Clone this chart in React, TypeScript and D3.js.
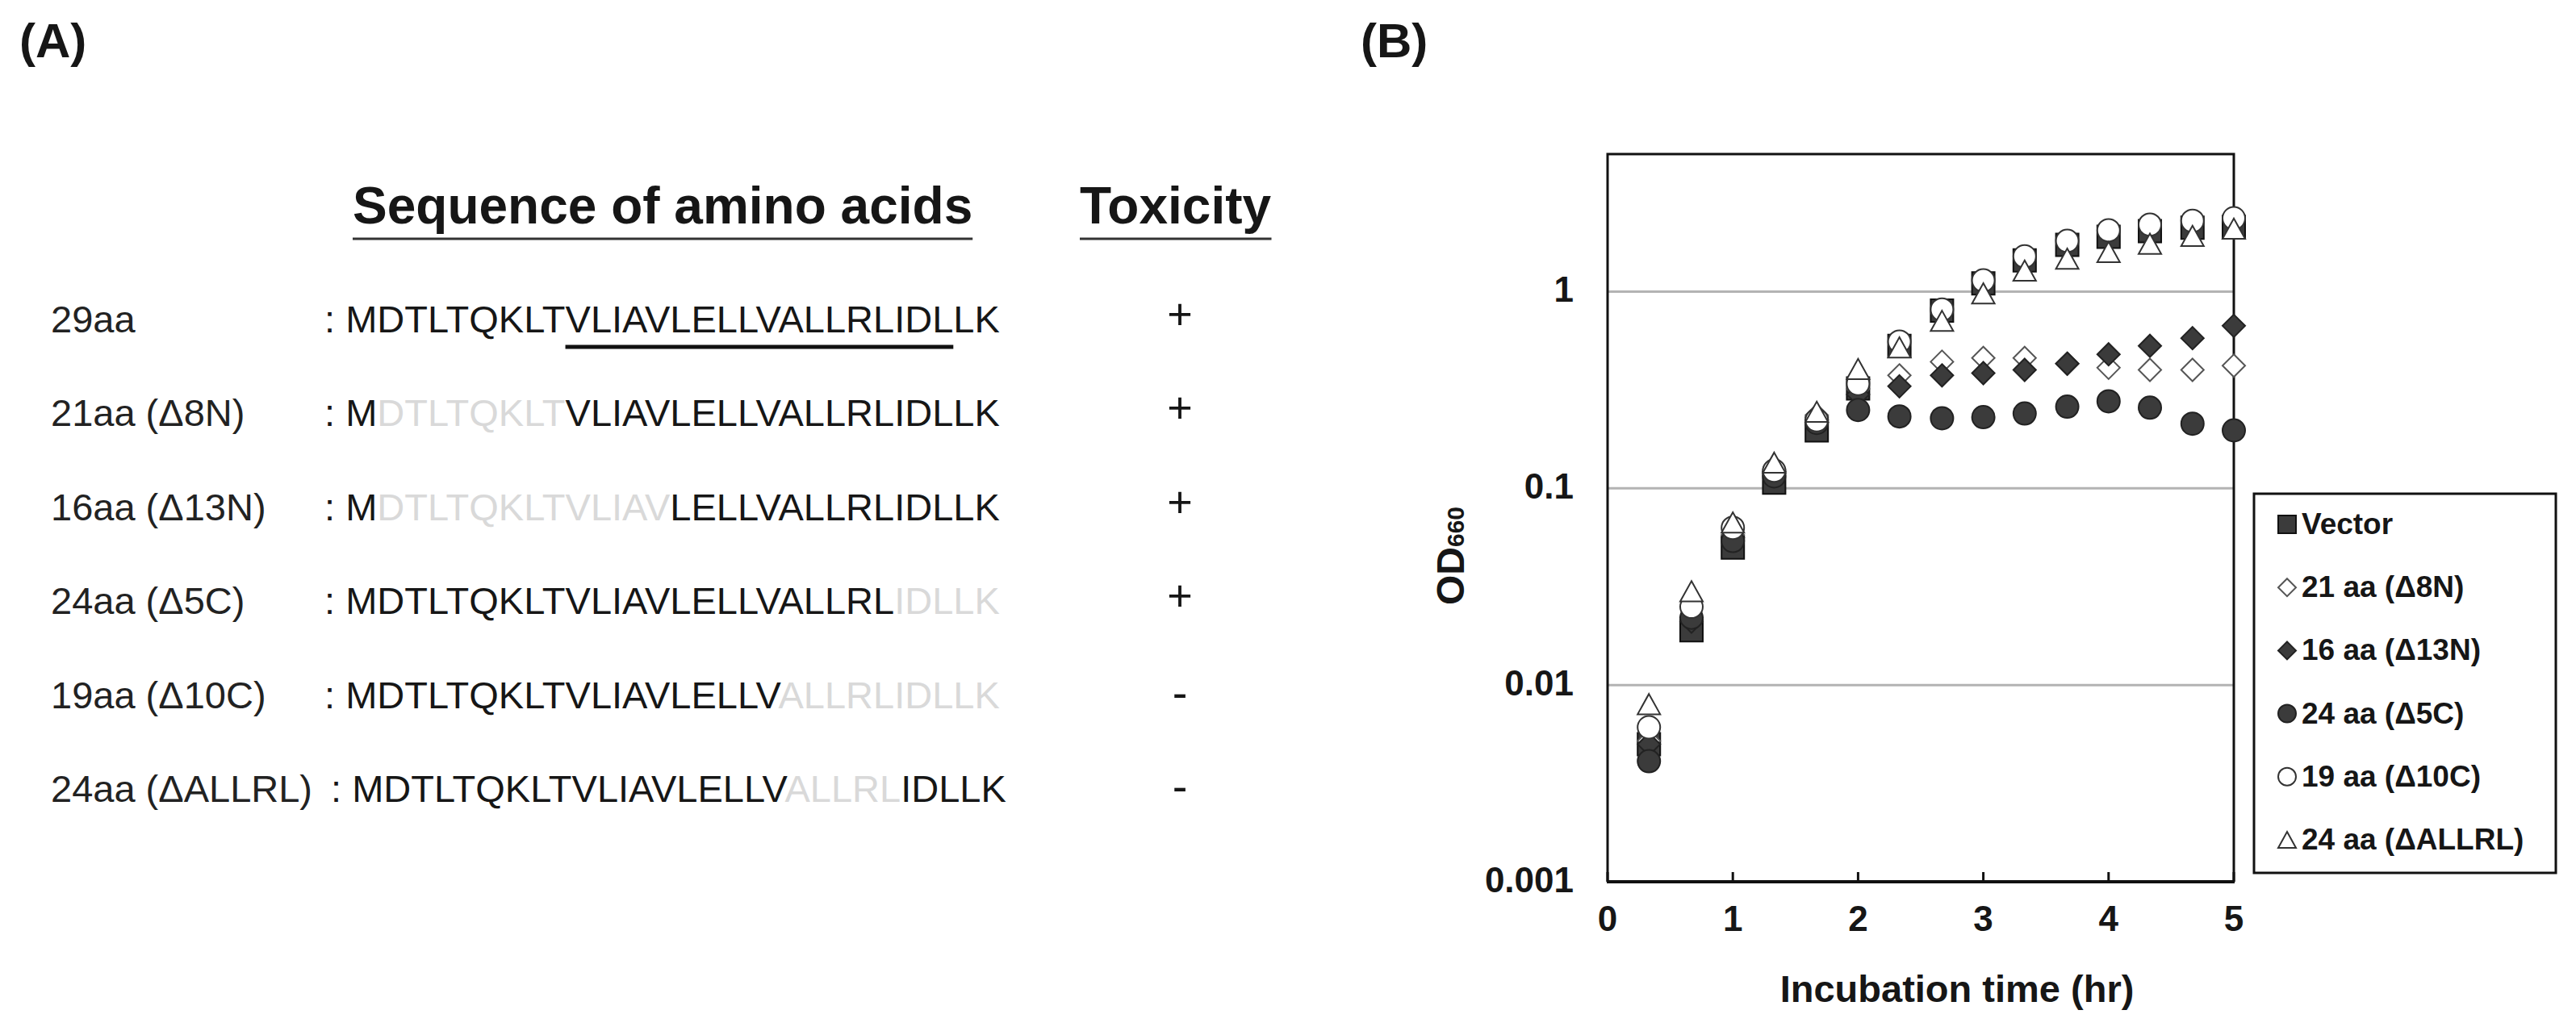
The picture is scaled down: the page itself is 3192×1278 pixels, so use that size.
import * as d3 from "d3";
import { useLayoutEffect, useRef, useState } from "react";

const W = 3192;
const H = 1278;
const FONT = "'Liberation Sans', Arial, Helvetica, sans-serif";
const INK = "#161616";
const FADED = "#d9d9d9";
const DARK_FILL = "#3b3b3b";

// ---- panel A data ----
const rowLabels = ["29aa", "21aa (Δ8N)", "16aa (Δ13N)", "24aa (Δ5C)", "19aa (Δ10C)", "24aa (ΔALLRL)"];
// sequence pieces: [residues, kept]
const rowPieces: [string, boolean][][] = [
  [["MDTLTQKLTVLIAVLELLVALLRLIDLLK", true]],
  [["M", true], ["DTLTQKLT", false], ["VLIAVLELLVALLRLIDLLK", true]],
  [["M", true], ["DTLTQKLTVLIAV", false], ["LELLVALLRLIDLLK", true]],
  [["MDTLTQKLTVLIAVLELLVALLRL", true], ["IDLLK", false]],
  [["MDTLTQKLTVLIAVLELLV", true], ["ALLRLIDLLK", false]],
  [["MDTLTQKLTVLIAVLELLV", true], ["ALLRL", false], ["IDLLK", true]],
];
const toxicity = ["+", "+", "+", "+", "-", "-"];
const headings = ["Sequence of amino acids", "Toxicity"];
const helixRange = [9, 26]; // underlined residues of the full peptide (0-based, inclusive)

// ---- panel B data ----
const times = [0.33, 0.67, 1.0, 1.33, 1.67, 2.0, 2.33, 2.67, 3.0, 3.33, 3.67, 4.0, 4.33, 4.67, 5.0];
const seriesNames = ["Vector", "21 aa (Δ8N)", "16 aa (Δ13N)", "24 aa (Δ5C)", "19 aa (Δ10C)", "24 aa (ΔALLRL)"];
const vectorOD = [0.005, 0.019, 0.05, 0.107, 0.197, 0.322, 0.53, 0.8, 1.1, 1.44, 1.73, 1.9, 2.03, 2.11, 2.13];
const d8nOD = [0.0052, 0.022, 0.058, 0.125, 0.235, 0.32, 0.375, 0.44, 0.46, 0.46, 0.43, 0.41, 0.4, 0.4, 0.42];
const d13nOD = [0.005, 0.021, 0.056, 0.122, 0.23, 0.3, 0.33, 0.375, 0.385, 0.4, 0.43, 0.48, 0.53, 0.58, 0.67];
const d5cOD = [0.0041, 0.022, 0.054, 0.115, 0.215, 0.25, 0.232, 0.227, 0.23, 0.24, 0.26, 0.277, 0.257, 0.213, 0.197];
const d10cOD = [0.0061, 0.025, 0.063, 0.123, 0.222, 0.34, 0.557, 0.81, 1.14, 1.51, 1.81, 2.05, 2.19, 2.29, 2.36];
const dAllrlOD = [0.008, 0.03, 0.067, 0.135, 0.245, 0.404, 0.52, 0.71, 0.98, 1.28, 1.47, 1.59, 1.75, 1.92, 2.09];
const seriesValues = [vectorOD, d8nOD, d13nOD, d5cOD, d10cOD, dAllrlOD];
const xTicks = [0, 1, 2, 3, 4, 5];
const yTicks = [0.001, 0.01, 0.1, 1];

type Shape = "square" | "diamond" | "circle" | "triangle";
const markerStyles: { shape: Shape; fill: string; stroke: string }[] = [
  { shape: "square", fill: DARK_FILL, stroke: "#111" },
  { shape: "diamond", fill: "#fff", stroke: "#555" },
  { shape: "diamond", fill: DARK_FILL, stroke: "#222" },
  { shape: "circle", fill: DARK_FILL, stroke: "#222" },
  { shape: "circle", fill: "#fff", stroke: "#333" },
  { shape: "triangle", fill: "#fff", stroke: "#333" },
];

// layout
const ROW_Y = [412, 994];
const LABEL_X = 63;
const SEQ_X = [402, 402, 402, 402, 402, 410];
const TOX_X = 1462;
const HEAD_Y = 277;
const HEAD_X = [437, 1338];
const HEAD_LINE_Y = 296;
const HELIX_LINE_Y = 430;
const PLOT = { left: 1992, right: 2768, top: 191, bottom: 1093 };
const LEGEND = { x: 2793, y: 612, w: 374, h: 470 };

function markerPath(shape: Shape, s: number) {
  const h = s / 2;
  if (shape === "square") return `M${-h},${-h}H${h}V${h}H${-h}Z`;
  if (shape === "diamond") return `M0,${-h}L${h},0L0,${h}L${-h},0Z`;
  if (shape === "triangle") return `M0,${-h * 0.9}L${h},${h * 0.9}L${-h},${h * 0.9}Z`;
  const p = d3.path();
  p.arc(0, 0, h, 0, Math.PI * 2);
  p.closePath();
  return p.toString();
}

function Marker({ k, x, y, size }: { k: number; x: number; y: number; size: number }) {
  const st = markerStyles[k];
  return (
    <path
      d={markerPath(st.shape, size)}
      transform={`translate(${x},${y})`}
      fill={st.fill}
      stroke={st.stroke}
      strokeWidth={2}
    />
  );
}

export default function App() {
  const seqRef = useRef<SVGTextElement>(null);
  const headRefs = useRef<(SVGTextElement | null)[]>([]);
  const [lines, setLines] = useState<{ x1: number; x2: number; y: number; w: number }[]>([]);

  const rowY = d3.scaleLinear().domain([0, rowLabels.length - 1]).range(ROW_Y);
  const x = d3.scaleLinear().domain([0, 5]).range([PLOT.left, PLOT.right]);
  const y = d3.scaleLog().domain([0.001, 5]).range([PLOT.bottom, PLOT.top]);
  const legendY = d3.scaleLinear().domain([0, seriesNames.length - 1]).range([662, 1053]);

  useLayoutEffect(() => {
    const out: { x1: number; x2: number; y: number; w: number }[] = [];
    headRefs.current.forEach((el) => {
      if (!el) return;
      const b = el.getBBox();
      out.push({ x1: b.x, x2: b.x + b.width, y: HEAD_LINE_Y, w: 3 });
    });
    const el = seqRef.current;
    if (el) {
      const pre = 2; // ": "
      const a = el.getStartPositionOfChar(pre + helixRange[0]).x;
      const b = el.getEndPositionOfChar(pre + helixRange[1]).x;
      out.push({ x1: a, x2: b, y: HELIX_LINE_Y, w: 5 });
    }
    setLines(out);
  }, []);

  return (
    <svg
      width={W}
      height={H}
      viewBox={`0 0 ${W} ${H}`}
      style={{ position: "absolute", left: 0, top: 0, display: "block", background: "#fff" }}
      fontFamily={FONT}
    >
      <rect width={W} height={H} fill="#fff" />

      {/* ---------- panel A ---------- */}
      <text x={24} y={71} fontSize={60} fontWeight="bold" fill={INK}>(A)</text>
      {headings.map((h, i) => (
        <text
          key={h}
          ref={(el) => (headRefs.current[i] = el)}
          x={HEAD_X[i]}
          y={HEAD_Y}
          fontSize={64}
          fontWeight="bold"
          fill={INK}
        >
          {h}
        </text>
      ))}
      {rowLabels.map((label, i) => (
        <g key={label}>
          <text x={LABEL_X} y={rowY(i)} fontSize={47} fill="#222">{label}</text>
          <text
            ref={i === 0 ? seqRef : undefined}
            x={SEQ_X[i]}
            y={rowY(i)}
            fontSize={47}
            style={{ whiteSpace: "pre" }}
          >
            <tspan fill={INK}>{": "}</tspan>
            {rowPieces[i].map(([res, kept], j) => (
              <tspan key={j} fill={kept ? INK : FADED}>{res}</tspan>
            ))}
          </text>
          <text
            x={TOX_X}
            y={toxicity[i] === "+" ? rowY(i) - 4 : rowY(i)}
            fontSize={toxicity[i] === "+" ? 54 : 56}
            textAnchor="middle"
            fill={INK}
          >
            {toxicity[i]}
          </text>
        </g>
      ))}
      {lines.map((l, i) => (
        <line key={i} x1={l.x1} x2={l.x2} y1={l.y} y2={l.y} stroke={i < 2 ? "#333" : "#111"} strokeWidth={l.w} />
      ))}

      {/* ---------- panel B ---------- */}
      <text x={1686} y={71} fontSize={60} fontWeight="bold" fill={INK}>(B)</text>

      {yTicks.slice(1).map((t) => (
        <line key={t} x1={PLOT.left} x2={PLOT.right} y1={y(t)} y2={y(t)} stroke="#b3b3b3" strokeWidth={3} />
      ))}
      <path
        d={`M${PLOT.left},${PLOT.bottom}V${PLOT.top}H${PLOT.right}V${PLOT.bottom}`}
        fill="none"
        stroke="#111"
        strokeWidth={3}
      />
      <line x1={PLOT.left - 1} x2={PLOT.right + 1} y1={PLOT.bottom} y2={PLOT.bottom} stroke="#111" strokeWidth={4} />
      {xTicks.map((t) => (
        <g key={t}>
          <line x1={x(t)} x2={x(t)} y1={PLOT.bottom} y2={PLOT.bottom - 12} stroke="#111" strokeWidth={3} />
          <text x={x(t)} y={1154} fontSize={44} fontWeight="bold" textAnchor="middle" fill={INK}>
            {t}
          </text>
        </g>
      ))}
      {yTicks.map((t) => (
        <text key={t} x={1950} y={y(t) + 13} fontSize={44} fontWeight="bold" textAnchor="end" fill={INK}>
          {d3.format("~g")(t)}
        </text>
      ))}
      <text x={2425} y={1242} fontSize={47} fontWeight="bold" textAnchor="middle" fill={INK}>
        Incubation time (hr)
      </text>
      <text transform="translate(1814,750) rotate(-90)" fontSize={48} fontWeight="bold" fill={INK}>
        OD<tspan fontSize={30}>660</tspan>
      </text>

      {seriesValues.map((vals, k) => (
        <g key={seriesNames[k]}>
          {vals.map((v, i) => (
            <Marker key={i} k={k} x={x(times[i])} y={y(v)} size={28} />
          ))}
        </g>
      ))}

      {/* legend */}
      <rect x={LEGEND.x} y={LEGEND.y} width={LEGEND.w} height={LEGEND.h} fill="#fff" stroke="#111" strokeWidth={3} />
      {seriesNames.map((name, k) => (
        <g key={name}>
          <Marker k={k} x={2834} y={legendY(k) - 12} size={22} />
          <text x={2852} y={legendY(k)} fontSize={37} fontWeight="bold" fill={INK}>
            {name}
          </text>
        </g>
      ))}
    </svg>
  );
}
